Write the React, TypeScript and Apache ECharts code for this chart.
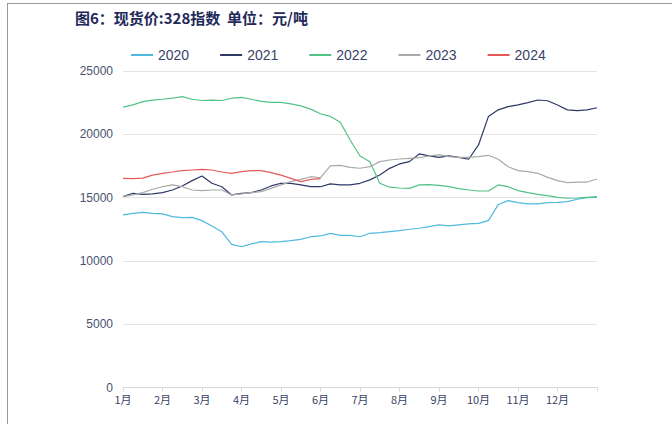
import React, { useEffect, useRef } from "react";
import * as echarts from "echarts";

// x positions: months as fractions, quarter-month steps from 1月 (1.0) to year end (13.0)
const monthLabels = ["1月", "2月", "3月", "4月", "5月", "6月", "7月", "8月", "9月", "10月", "11月", "12月"];
const seriesNames = ["2020", "2021", "2022", "2023", "2024"];

const v2020 = [
  13630, 13760, 13840, 13760, 13710, 13500, 13420, 13440, 13180, 12760, 12310, 11310,
  11120, 11340, 11520, 11490, 11520, 11600, 11700, 11910, 11970, 12180, 12020, 12020,
  11910, 12180, 12230, 12310, 12390, 12500, 12580, 12710, 12840, 12760, 12840, 12920,
  12970, 13180, 14450, 14760, 14600, 14500, 14500, 14600, 14630, 14680, 14870, 15000, 15080,
];
const v2021 = [
  15080, 15340, 15260, 15290, 15390, 15600, 15920, 16340, 16710, 16130, 15860, 15210,
  15340, 15390, 15600, 15920, 16130, 16130, 16000, 15860, 15860, 16080, 16000, 16000,
  16130, 16400, 16780, 17310, 17660, 17840, 18450, 18290, 18180, 18290, 18180, 18030,
  19160, 21400, 21930, 22190, 22320, 22500, 22710, 22650, 22320, 21930, 21870, 21930, 22100,
];
const v2022 = [
  22150, 22320, 22580, 22700, 22770, 22850, 22970, 22770, 22670, 22700, 22670, 22850,
  22920, 22770, 22600, 22520, 22520, 22410, 22250, 21990, 21620, 21410, 20950, 19550,
  18290, 17840, 16130, 15820, 15760, 15730, 16000, 16020, 15970, 15860, 15710, 15600,
  15520, 15520, 16000, 15860, 15550, 15390, 15260, 15150, 15020, 14950, 14970, 15020, 15020,
];
const v2023 = [
  15080, 15210, 15390, 15660, 15860, 16000, 15860, 15600, 15550, 15600, 15600, 15210,
  15290, 15390, 15470, 15730, 16000, 16260, 16440, 16650, 16570, 17500, 17550, 17390,
  17320, 17440, 17840, 17970, 18050, 18100, 18150, 18290, 18370, 18240, 18180, 18180,
  18240, 18340, 18030, 17440, 17130, 17050, 16920, 16600, 16340, 16180, 16230, 16230, 16470,
];
const v2024 = [
  16520, 16500, 16540, 16780, 16920, 17020, 17130, 17180, 17230, 17180, 17020, 16920,
  17050, 17130, 17130, 16970, 16780, 16520, 16260, 16440, 16500,
];

const yTicks = [0, 5000, 10000, 15000, 20000, 25000];
const colors = ["#4fbadf", "#2e3a66", "#52c285", "#a9a9a9", "#e45a5a"];

function toPairs(vals: number[]) {
  return vals.map((v, i) => [1 + i * 0.25, v]);
}

export default function App() {
  const ref = useRef<HTMLDivElement>(null);
  useEffect(() => {
    if (!ref.current) return;
    const chart = echarts.init(ref.current, null, { renderer: "svg" });
    const all = [v2020, v2021, v2022, v2023, v2024];
    chart.setOption({
      animation: false,
      backgroundColor: "#ffffff",
      title: {
        text: "图6：现货价:328指数  单位：元/吨",
        left: 70,
        top: 5,
        textStyle: {
          fontSize: 15,
          fontWeight: "bold",
          color: "#1f2a5a",
          fontFamily: "Noto Sans CJK SC",
        },
      },
      legend: {
        top: 43,
        left: 126,
        itemGap: 31,
        itemWidth: 22,
        itemHeight: 2,
        icon: "rect",
        textStyle: { fontSize: 14, color: "#3a4468", fontFamily: "Liberation Sans" },
        data: seriesNames,
      },
      grid: { left: 123, right: 75, top: 71, bottom: 36.5, containLabel: false },
      xAxis: {
        type: "value",
        min: 1,
        max: 13,
        interval: 1,
        axisLine: { show: true, lineStyle: { color: "#d9d9d9" } },
        axisTick: { show: true, length: 4, lineStyle: { color: "#d9d9d9" } },
        splitLine: { show: false },
        axisLabel: {
          fontSize: 11,
          color: "#3a4468",
          margin: 6,
          fontFamily: "Noto Sans CJK SC",
          formatter: (v: number) => (v >= 1 && v <= 12 ? monthLabels[Math.round(v) - 1] : ""),
        },
      },
      yAxis: {
        type: "value",
        min: yTicks[0],
        max: yTicks[yTicks.length - 1],
        interval: 5000,
        axisLine: { show: false },
        axisTick: { show: false },
        splitLine: { lineStyle: { color: "#e3e3e3", width: 1 } },
        axisLabel: {
          fontSize: 12,
          color: "#4a5270",
          margin: 10,
          fontFamily: "Liberation Sans",
          formatter: (v: number) => String(v),
        },
      },
      series: seriesNames.map((name, i) => ({
        name,
        type: "line",
        data: toPairs(all[i]),
        showSymbol: false,
        symbol: "none",
        smooth: false,
        lineStyle: { width: 1.2, color: colors[i] },
        itemStyle: { color: colors[i] },
      })),
    });
    return () => chart.dispose();
  }, []);
  return (
    <div
      style={{
        position: "fixed",
        left: 0,
        top: 0,
        width: 672,
        height: 424,
        background: "#fff",
      }}
    >
      <div ref={ref} style={{ position: "absolute", left: 0, top: 0, width: 672, height: 424 }} />
      <div
        style={{
          position: "absolute",
          left: 7,
          top: 3,
          width: 665,
          height: 421,
          borderTop: "1px solid #999",
          borderLeft: "1px solid #999",
          boxSizing: "border-box",
          pointerEvents: "none",
        }}
      />
    </div>
  );
}
